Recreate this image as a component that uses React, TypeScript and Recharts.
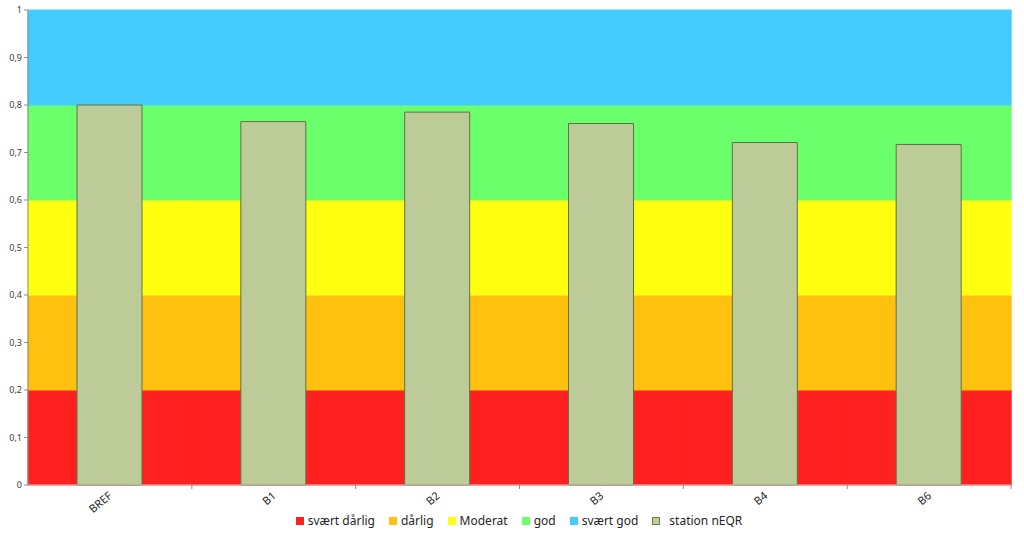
import React from 'react';
import { ComposedChart, Bar, XAxis, YAxis, Legend } from 'recharts';

const stations = ['BREF', 'B1', 'B2', 'B3', 'B4', 'B6'];
const stationNEQR = [0.8, 0.765, 0.785, 0.761, 0.721, 0.717];

// klassegrenser, stablet fra bunnen
const classNames = ['svært dårlig', 'dårlig', 'Moderat', 'god', 'svært god'];
const classSteps = [0.2, 0.2, 0.2, 0.2, 0.2];
const classColors = ['#FF2020', '#FFC010', '#FFFF10', '#6CFF6C', '#44CCFF'];

const yTicks = [0, 0.1, 0.2, 0.3, 0.4, 0.5, 0.6, 0.7, 0.8, 0.9, 1];

const chartData = stations.map((station, i) => {
  const row: Record<string, string | number> = { station, nEQR: stationNEQR[i] };
  classNames.forEach((name, k) => {
    row[name] = classSteps[k];
  });
  return row;
});

const legendItems = [
  ...classNames.map((name, k) => ({ name, color: classColors[k], border: 'none' })),
  { name: 'station nEQR', color: '#BCCB98', border: '1px solid #6B7F4A' },
];

const fmt = (v: number) => String(v).replace('.', ',');

function StationTick(props: any) {
  const { x, y, payload } = props;
  const off = payload.offset || 0;
  return (
    <g>
      <line x1={x + off} y1={y} x2={x + off} y2={y + 4} stroke="#8c8c8c" />
      <text
        x={x + 3}
        y={y + 12}
        transform={`rotate(-40, ${x + 3}, ${y + 12})`}
        textAnchor="end"
        fontSize={11}
        fill="#262626"
        fontFamily="Noto Sans, sans-serif"
      >
        {payload.value}
      </text>
    </g>
  );
}

function ClassLegend() {
  return (
    <div
      style={{
        display: 'flex',
        justifyContent: 'center',
        alignItems: 'center',
        fontFamily: 'Noto Sans, sans-serif',
        fontSize: 12,
        color: '#262626',
        paddingLeft: 14,
      }}
    >
      {legendItems.map((it, i) => (
        <span
          key={it.name}
          style={{ display: 'flex', alignItems: 'center', marginRight: i === legendItems.length - 1 ? 0 : 14 }}
        >
          <span
            style={{
              width: 8,
              height: 8,
              background: it.color,
              border: it.border,
              marginRight: i === legendItems.length - 1 ? 9 : 4,
              boxSizing: 'border-box',
            }}
          />
          {it.name}
        </span>
      ))}
    </div>
  );
}

export default function App() {
  return (
    <div style={{ position: 'absolute', left: 0, top: 0, background: '#fff' }}>
      <ComposedChart
        width={1024}
        height={538}
        data={chartData}
        margin={{ top: 10, right: 13, left: 0, bottom: 6 }}
        barCategoryGap={0}
        barGap={0}
      >
        <XAxis xAxisId="classes" dataKey="station" hide height={0} />
        <XAxis
          xAxisId="main"
          dataKey="station"
          height={27}
          interval={0}
          tickLine={false}
          tickSize={0}
          tickMargin={0}
          axisLine={{ stroke: '#c8c8c8' }}
          tick={<StationTick />}
        />
        <YAxis
          domain={[0, 1]}
          ticks={yTicks}
          width={28}
          tickFormatter={fmt}
          tick={{ fontSize: 9, fill: '#404040', fontFamily: 'Noto Sans, sans-serif' }}
          tickSize={4}
          tickLine={{ stroke: '#8c8c8c' }}
          axisLine={{ stroke: '#8c8c8c' }}
          interval={0}
        />
        {classNames.map((name, k) => (
          <Bar
            key={name}
            xAxisId="classes"
            dataKey={name}
            stackId="classes"
            fill={classColors[k]}
            stroke={classColors[k]}
            strokeWidth={1}
            isAnimationActive={false}
          />
        ))}
        <Bar
          xAxisId="main"
          dataKey="nEQR"
          name="station nEQR"
          barSize={65}
          fill="#BCCB98"
          stroke="#5E7340"
          strokeWidth={1}
          isAnimationActive={false}
        />
        <Legend
          verticalAlign="bottom"
          height={20}
          wrapperStyle={{ left: 0, width: 1024 }}
          content={<ClassLegend />}
        />
      </ComposedChart>
    </div>
  );
}
